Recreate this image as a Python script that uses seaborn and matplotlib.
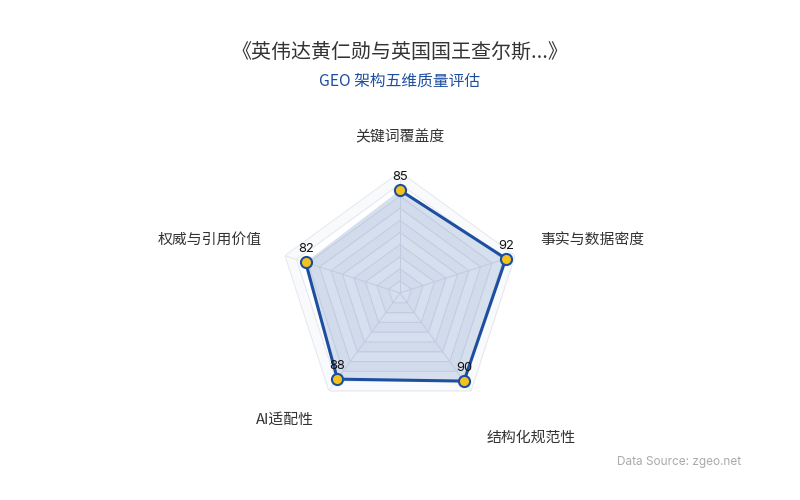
import numpy as np
import seaborn as sns
import matplotlib
matplotlib.use("Agg")
import matplotlib.pyplot as plt

sns.set_theme(style="white")
plt.rcParams["font.family"] = ["Noto Sans CJK SC", "DejaVu Sans"]

# data
dimensions = ["关键词覆盖度", "事实与数据密度", "结构化规范性", "AI适配性", "权威与引用价值"]
scores = [85, 92, 90, 88, 82]
max_score = 100

title = "《英伟达黄仁勋与英国国王查尔斯...》"
subtitle = "GEO 架构五维质量评估"
source = "Data Source: zgeo.net"

line_color = "#1d4fa0"
fill_color = "#1d4fa0"
marker_color = "#f4c21f"
grid_color = "#e4e7ee"

n = len(dimensions)
angles = np.linspace(0, 2 * np.pi, n, endpoint=False)
closed_angles = np.append(angles, angles[0])
closed_scores = np.append(scores, scores[0])

fig = plt.figure(figsize=(8, 5), dpi=100)
ax = fig.add_axes([0.34875, 0.172, 0.3025, 0.484], projection="polar")
ax.set_theta_offset(np.pi / 2)
ax.set_theta_direction(-1)
ax.set_ylim(0, max_score)
ax.grid(False)
ax.spines["polar"].set_visible(False)
ax.set_xticks([])
ax.set_yticks([])
ax.set_facecolor("none")

# pentagon grid + faint split areas
rings = np.arange(10, max_score + 1, 10)
for i, r in enumerate(rings):
    ax.plot(closed_angles, [r] * (n + 1), color=grid_color, lw=0.7, zorder=1)
    if i % 2 == 1:
        ax.fill_between(closed_angles, rings[i - 1], r, color="#f9fafc", lw=0, zorder=0)
for a in angles:
    ax.plot([a, a], [0, max_score], color=grid_color, lw=0.7, zorder=1)

# series
ax.fill(closed_angles, closed_scores, color=fill_color, alpha=0.18, lw=0, zorder=2)
sns.lineplot(x=closed_angles, y=closed_scores, sort=False, ax=ax,
             color=line_color, lw=2.2, zorder=3)
ax.plot(angles, scores, "o", ms=8, mfc=marker_color, mec=line_color, mew=1.5, zorder=4)
ax.set_xlabel("")
ax.set_ylabel("")

for a, v in zip(angles, scores):
    ax.annotate(str(v), (a, v), textcoords="offset points", xytext=(0, 5),
                ha="center", va="bottom", fontsize=9.3, color="#111111",
                family=["Inter", "DejaVu Sans"], zorder=5)

# axis names (layout: compass angle, radius, alignment)
name_layout = [(0, 129, "center"), (69.3, 123.7, "left"), (149.3, 139.3, "left"),
               (222.2, 141.6, "center"), (291, 122, "right")]
for name, (deg, r, ha) in zip(dimensions, name_layout):
    ax.text(np.deg2rad(deg), r, name, ha=ha, va="center", fontsize=10.7,
            color="#333333", clip_on=False)

fig.text(0.5, 1 - 52 / 500, title, ha="center", va="center", fontsize=14.4, color="#333333")
fig.text(0.5, 1 - 81 / 500, subtitle, ha="center", va="center", fontsize=11.3, color="#1d4fa0")
fig.text(741 / 800, 1 - 462 / 500, source, ha="right", va="center", fontsize=8.5,
         color="#aaaaaa", family=["Inter", "DejaVu Sans"])

fig.savefig("out.png", dpi=100, facecolor="white")
